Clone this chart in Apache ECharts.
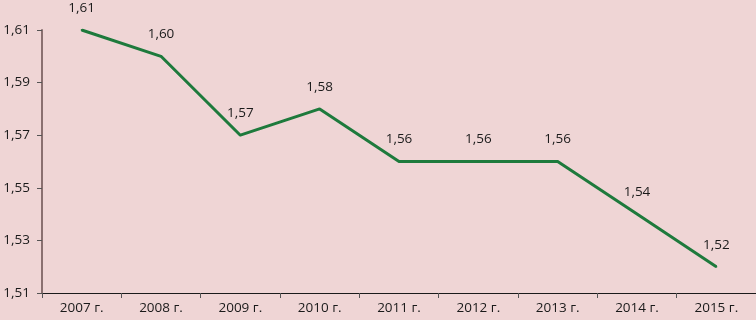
<!DOCTYPE html>
<html>
<head>
<meta charset="utf-8">
<script src="https://cdn.jsdelivr.net/npm/echarts@6/dist/echarts.min.js"></script>
<style>
  html, body { margin: 0; padding: 0; background: #efd5d5; }
  #chart { width: 756px; height: 320px; }
</style>
</head>
<body>
<div id="chart"></div>
<script>
var years = ['2007 г.', '2008 г.', '2009 г.', '2010 г.', '2011 г.', '2012 г.', '2013 г.', '2014 г.', '2015 г.'];
var values = [1.61, 1.60, 1.57, 1.58, 1.56, 1.56, 1.56, 1.54, 1.52];

var fmt = function (v) { return Number(v).toFixed(2).replace('.', ','); };

var chart = echarts.init(document.getElementById('chart'));

var option = {
    backgroundColor: '#efd5d5',
    animation: false,
    textStyle: { fontFamily: 'Open Sans' },
    grid: { left: 42, right: 0, top: 30, bottom: 27 },
    xAxis: {
        type: 'category',
        data: years,
        boundaryGap: true,
        axisLine: { lineStyle: { color: '#1a1a1a', width: 1 } },
        axisTick: { show: true, length: 5, lineStyle: { color: '#555' } },
        axisLabel: { color: '#1a1a1a', fontSize: 13.5, margin: 8 },
        splitLine: { show: false }
    },
    yAxis: {
        type: 'value',
        min: 1.51,
        max: 1.61,
        interval: 0.02,
        axisLine: { show: true, lineStyle: { color: '#8a7070', width: 2 } },
        axisTick: { show: true, length: 5, lineStyle: { color: '#555' } },
        axisLabel: { color: '#1a1a1a', fontSize: 13.5, margin: 12, formatter: fmt },
        splitLine: { show: false }
    },
    series: [
        {
            type: 'line',
            data: values,
            symbol: 'circle',
            symbolSize: 2,
            showSymbol: true,
            itemStyle: { color: '#1e7a3c', borderWidth: 0 },
            lineStyle: { color: '#1e7a3c', width: 3 },
            label: {
                show: true,
                position: 'top',
                distance: 14,
                color: '#1a1a1a',
                fontSize: 13.5,
                formatter: function (p) { return fmt(p.value); }
            }
        }
    ]
};

chart.setOption(option);
</script>
</body>
</html>
